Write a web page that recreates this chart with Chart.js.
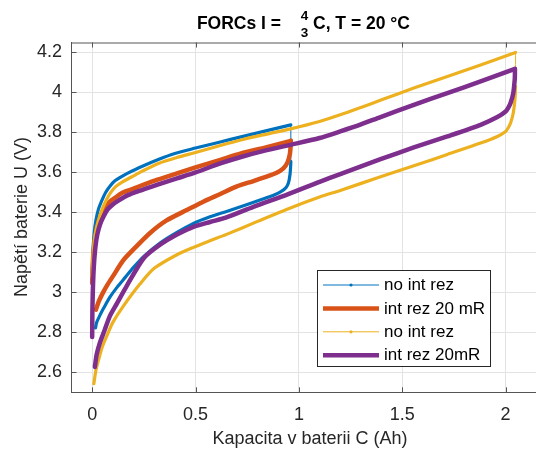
<!DOCTYPE html>
<html>
<head>
<meta charset="utf-8">
<title>FORCs</title>
<script src="https://cdn.jsdelivr.net/npm/chart.js@4.4.1/dist/chart.umd.min.js"></script>
<style>
  html, body { margin: 0; padding: 0; background: #fff; }
  canvas { display: block; }
</style>
</head>
<body>
<canvas id="chart" width="536" height="451"></canvas>
<script>
/* ── Data ────────────────────────────────────────────────────────────────── */
const xTicks = [0, 0.5, 1, 1.5, 2];
const yTicks = [2.6, 2.8, 3, 3.2, 3.4, 3.6, 3.8, 4, 4.2];
const seriesLabels = ['no int rez', 'int rez 20 mR', 'no int rez', 'int rez 20mR'];
const seriesColors = ['#0072BD', '#D95319', '#EDB120', '#7E2F8E'];

// each loop: charge up to the reversal point, then discharge back
const blueX = [0, 0.002, 0.005, 0.010, 0.018, 0.030, 0.047, 0.065, 0.085, 0.110, 0.140, 0.170, 0.24, 0.32, 0.40, 0.50, 0.61, 0.72, 0.84, 0.961,
  0.961, 0.960, 0.957, 0.950, 0.938, 0.915, 0.88, 0.84, 0.75, 0.65, 0.57, 0.49, 0.41, 0.33, 0.25, 0.20, 0.16, 0.12, 0.085, 0.055, 0.035, 0.022, 0.016];
const blueY = [3.05, 3.15, 3.23, 3.30, 3.36, 3.415, 3.46, 3.50, 3.53, 3.558, 3.578, 3.595, 3.63, 3.665, 3.695, 3.722, 3.75, 3.778, 3.808, 3.838,
  3.655, 3.63, 3.59, 3.55, 3.525, 3.505, 3.487, 3.472, 3.44, 3.405, 3.378, 3.345, 3.30, 3.248, 3.18, 3.125, 3.075, 3.025, 2.975, 2.92, 2.88, 2.85, 2.822];

const orangeX = [0, 0.002, 0.006, 0.013, 0.025, 0.040, 0.065, 0.087, 0.111, 0.144, 0.19, 0.24, 0.32, 0.41, 0.50, 0.62, 0.72, 0.84, 0.961,
  0.960, 0.956, 0.945, 0.925, 0.89, 0.84, 0.78, 0.70, 0.62, 0.54, 0.46, 0.36, 0.28, 0.20, 0.15, 0.10, 0.075, 0.053, 0.032, 0.018];
const orangeY = [3.047, 3.12, 3.20, 3.26, 3.33, 3.38, 3.43, 3.455, 3.473, 3.497, 3.515, 3.535, 3.565, 3.595, 3.625, 3.663, 3.695, 3.725, 3.758,
  3.73, 3.69, 3.65, 3.62, 3.597, 3.578, 3.557, 3.53, 3.492, 3.455, 3.413, 3.36, 3.297, 3.215, 3.16, 3.08, 3.04, 3.00, 2.955, 2.913];

const yellowX = [0, 0.004, 0.010, 0.020, 0.033, 0.050, 0.070, 0.090, 0.115, 0.145, 0.19, 0.24, 0.32, 0.41, 0.50, 0.62, 0.73, 0.85, 0.96, 1.10, 1.20, 1.30, 1.40, 1.556, 1.718, 1.879, 2.048,
  2.048, 2.045, 2.037, 2.024, 2.012, 2.0, 1.96, 1.879, 1.718, 1.556, 1.395, 1.20, 1.10, 0.94, 0.80, 0.65, 0.57, 0.49, 0.41, 0.30, 0.23, 0.15, 0.10, 0.077, 0.05, 0.033, 0.018, 0.008];
const yellowY = [3.08, 3.18, 3.26, 3.32, 3.37, 3.42, 3.465, 3.50, 3.53, 3.552, 3.577, 3.605, 3.645, 3.675, 3.70, 3.735, 3.765, 3.793, 3.818, 3.855, 3.888, 3.925, 3.963, 4.022, 4.08, 4.138, 4.20,
  4.03, 3.963, 3.897, 3.847, 3.822, 3.805, 3.78, 3.747, 3.69, 3.633, 3.578, 3.51, 3.477, 3.415, 3.355, 3.29, 3.258, 3.225, 3.188, 3.12, 3.04, 2.93, 2.85, 2.797, 2.73, 2.67, 2.61, 2.543];

const purpleX = [0, 0.001, 0.003, 0.006, 0.010, 0.016, 0.025, 0.038, 0.055, 0.075, 0.10, 0.125, 0.17, 0.24, 0.32, 0.41, 0.50, 0.62, 0.72, 0.84, 0.96, 1.10, 1.20, 1.30, 1.395, 1.556, 1.718, 1.879, 2.045,
  2.045, 2.044, 2.037, 2.024, 2.012, 2.0, 1.96, 1.879, 1.718, 1.556, 1.395, 1.20, 1.10, 0.94, 0.78, 0.65, 0.57, 0.49, 0.41, 0.33, 0.25, 0.166, 0.12, 0.085, 0.06, 0.037, 0.022, 0.013];
const purpleY = [2.777, 2.90, 3.00, 3.09, 3.16, 3.23, 3.29, 3.34, 3.38, 3.415, 3.44, 3.458, 3.485, 3.512, 3.54, 3.57, 3.60, 3.645, 3.677, 3.71, 3.738, 3.772, 3.805, 3.84, 3.877, 3.938, 3.997, 4.055, 4.118,
  4.09, 4.063, 3.997, 3.947, 3.922, 3.905, 3.877, 3.838, 3.78, 3.725, 3.666, 3.592, 3.553, 3.488, 3.428, 3.375, 3.352, 3.328, 3.29, 3.24, 3.172, 3.03, 2.945, 2.88, 2.81, 2.747, 2.69, 2.627];

/* ── Helpers ─────────────────────────────────────────────────────────────── */
const FONT = '"Liberation Sans", Arial, Helvetica, sans-serif';
const AXIS_COLOR = '#555555';
const TEXT_COLOR = '#262626';

function toPoints(xs, ys) {
  return xs.map((x, i) => ({ x, y: ys[i] }));
}

// split a loop at its reversal point (largest capacity) into charge / discharge
function splitLoop(xs, ys) {
  const pts = toPoints(xs, ys);
  const k = xs.indexOf(Math.max(...xs));
  return [pts.slice(0, k + 1), pts.slice(k)];
}

// thin "no int rez" traces: the jump at the reversal point is a plain thin line
function jumpWidth(ctx) {
  return ctx.p0.parsed.x === ctx.p1.parsed.x ? 1 : undefined;
}

/* ── Plugins ─────────────────────────────────────────────────────────────── */
const axesBox = {
  id: 'axesBox',
  afterDraw(chart) {
    const { ctx, chartArea: a, scales } = chart;
    ctx.save();
    ctx.strokeStyle = AXIS_COLOR;
    ctx.lineWidth = 1;
    ctx.beginPath();
    ctx.moveTo(a.left, a.top + 0.5);
    ctx.lineTo(a.right, a.top + 0.5);
    xTicks.forEach(v => {
      const px = Math.round(scales.x.getPixelForValue(v)) + 0.5;
      ctx.moveTo(px, a.top);
      ctx.lineTo(px, a.top + 5);
      ctx.moveTo(px, a.bottom);
      ctx.lineTo(px, a.bottom - 5);
    });
    yTicks.forEach(v => {
      const py = Math.round(scales.y.getPixelForValue(v)) + 0.5;
      ctx.moveTo(a.left, py);
      ctx.lineTo(a.left + 5, py);
    });
    ctx.stroke();
    ctx.restore();
  },
};

const labels = {
  id: 'labels',
  afterDraw(chart) {
    const { ctx } = chart;
    ctx.save();
    ctx.fillStyle = '#000';
    ctx.textBaseline = 'alphabetic';

    // title with a stacked 4/3 fraction
    ctx.font = `bold 17.5px ${FONT}`;
    ctx.textAlign = 'right';
    ctx.fillText('FORCs I =', 281, 28.5);
    ctx.textAlign = 'left';
    ctx.fillText('C, T = 20 °C', 313, 28.5);
    ctx.font = `bold 13.5px ${FONT}`;
    ctx.textAlign = 'center';
    ctx.fillText('4', 304.5, 19.5);
    ctx.fillText('3', 304.5, 36.8);

    // axis titles
    ctx.fillStyle = TEXT_COLOR;
    ctx.font = `18px ${FONT}`;
    ctx.textBaseline = 'middle';
    ctx.fillText('Kapacita v baterii C (Ah)', 310, 439);
    ctx.translate(22, 217);
    ctx.rotate(-Math.PI / 2);
    ctx.fillText('Napětí baterie U (V)', 0, 0);
    ctx.restore();
  },
};

const legendBox = {
  id: 'legendBox',
  afterDraw(chart) {
    const { ctx } = chart;
    const left = 317.5, top = 270.5, w = 173, h = 96;
    ctx.save();
    ctx.fillStyle = '#fff';
    ctx.fillRect(left, top, w, h);
    ctx.strokeStyle = '#262626';
    ctx.lineWidth = 1;
    ctx.strokeRect(left, top, w, h);

    seriesLabels.forEach((label, i) => {
      const y = 285 + i * 23.4;
      const thin = widths[i] < 4;
      ctx.strokeStyle = seriesColors[i];
      ctx.lineWidth = thin ? 1 : 4.5;
      ctx.beginPath();
      ctx.moveTo(323, y);
      ctx.lineTo(379, y);
      ctx.stroke();
      if (thin) {
        ctx.fillStyle = seriesColors[i];
        ctx.beginPath();
        ctx.arc(351, y, 1.6, 0, Math.PI * 2);
        ctx.fill();
      }
      ctx.fillStyle = '#000';
      ctx.font = `17px ${FONT}`;
      ctx.textAlign = 'left';
      ctx.textBaseline = 'middle';
      ctx.fillText(label, 384, y + 0.5);
    });
    ctx.restore();
  },
};

/* ── Chart ───────────────────────────────────────────────────────────────── */
const loops = [
  splitLoop(blueX, blueY),
  splitLoop(orangeX, orangeY),
  splitLoop(yellowX, yellowY),
  splitLoop(purpleX, purpleY),
];
const widths = [3.2, 4.5, 3.2, 4.5];

const datasets = [];
loops.forEach((parts, i) => {
  parts.forEach(data => {
    datasets.push({
      label: seriesLabels[i],
      data,
      borderColor: seriesColors[i],
      borderWidth: widths[i],
      borderJoinStyle: 'round',
      borderCapStyle: 'round',
      pointRadius: 0,
      tension: 0.25,
      fill: false,
      order: 3 - i,
      segment: widths[i] < 4 ? { borderWidth: jumpWidth } : undefined,
    });
  });
});

const tickFont = { family: FONT, size: 18 };

new Chart(document.getElementById('chart'), {
  type: 'line',
  data: { datasets },
  options: {
    responsive: false,
    animation: false,
    layout: { padding: { top: 42.5, left: 0, right: 0, bottom: 0 } },
    plugins: {
      legend: { display: false },
      title: { display: false },
      tooltip: { enabled: false },
    },
    scales: {
      x: {
        type: 'linear',
        min: -0.1,
        max: 2.147,
        afterBuildTicks: s => { s.ticks = xTicks.map(v => ({ value: v })); },
        afterFit: s => { s.height = 58.7; },
        grid: { color: '#e3e3e3', drawTicks: false },
        border: { color: AXIS_COLOR, width: 1 },
        ticks: { padding: 11.5, color: TEXT_COLOR, font: tickFont, maxRotation: 0, callback: v => String(v) },
      },
      y: {
        type: 'linear',
        min: 2.5,
        max: 4.25,
        afterBuildTicks: s => { s.ticks = yTicks.map(v => ({ value: v })); },
        afterFit: s => { s.width = 71.5; },
        grid: { color: '#e3e3e3', drawTicks: false },
        border: { color: AXIS_COLOR, width: 1 },
        ticks: { padding: 9.5, color: TEXT_COLOR, font: tickFont, callback: v => String(v) },
      },
    },
  },
  plugins: [axesBox, labels, legendBox],
});
</script>
</body>
</html>
